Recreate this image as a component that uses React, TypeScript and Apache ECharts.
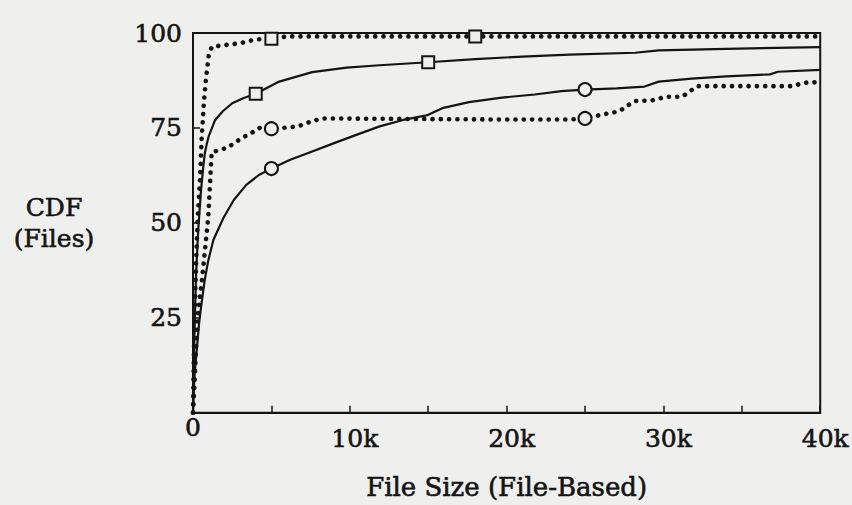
import React, { useEffect, useRef } from 'react';
import * as echarts from 'echarts';

const xTickValues = [0, 10000, 20000, 30000, 40000];
const xTickLabels = ['0', '10k', '20k', '30k', '40k'];
const yTickValues = [0, 25, 50, 75, 100];
const yTickLabels = ['', '25', '50', '75', '100'];

// dotted curve with square markers (top)
const dottedSquareLine: [number, number][] = [
  [0, 0], [50, 14], [120, 28], [200, 40], [300, 51], [440, 61], [550, 72], [700, 82],
  [830, 88], [1000, 94], [1200, 96.4], [2000, 96.8], [3000, 97.3], [3700, 98],
  [4300, 98.4], [5000, 98.5], [6000, 99.1], [18000, 99.1], [40000, 99.1],
];
const dottedSquareMarks: [number, number][] = [[5000, 98.5], [18000, 99.1]];

// solid curve with square markers
const solidSquareLine: [number, number][] = [
  [0, 0], [50, 12], [100, 22], [200, 37], [340, 48.5], [500, 58], [660, 65], [760, 68.5],
  [870, 70.6], [1000, 72.8], [1400, 77], [1900, 79.4], [2500, 81.5], [3200, 82.8],
  [4000, 84], [5500, 87.2], [7600, 89.7], [9800, 90.9], [11900, 91.5], [15000, 92.3],
  [18000, 93.1], [21000, 93.8], [24000, 94.3], [28200, 94.8], [29700, 95.4],
  [34000, 95.8], [40000, 96.3],
];
const solidSquareMarks: [number, number][] = [[4000, 84], [15000, 92.3]];

// dotted curve with circle markers
const dottedCircleLine: [number, number][] = [
  [0, 0], [100, 8], [230, 20], [400, 29], [550, 34], [760, 42.7], [970, 51.4],
  [1080, 60], [1190, 68.6], [1700, 69.2], [2200, 69.8], [3100, 72.3], [3700, 73.6],
  [4250, 75], [5000, 74.8], [5700, 75], [6700, 75.4], [7600, 76.8], [8300, 77.5],
  [12000, 77.4], [16000, 77.3], [20000, 77.2], [24000, 77.2], [25000, 77.5],
  [25600, 78.1], [27200, 79.4], [27600, 80.6], [28200, 82.1], [29200, 82.2],
  [30200, 83.2], [31200, 83.2], [31700, 84.7], [32200, 86], [38300, 86],
  [38700, 86.6], [39200, 87], [40000, 87],
];
const dottedCircleMarks: [number, number][] = [[5000, 74.8], [25000, 77.5]];

// solid curve with circle markers
const solidCircleLine: [number, number][] = [
  [0, 0], [50, 6], [100, 10], [230, 16], [400, 24], [550, 29], [750, 35], [970, 40],
  [1300, 45.5], [1930, 51.2], [2600, 56], [3400, 60], [4200, 62.6], [5000, 64.3],
  [6200, 66.6], [7600, 68.8], [9000, 71], [10500, 73.3], [11900, 75.4], [13400, 77.1],
  [14900, 78.3], [15900, 80.2], [17600, 81.8], [19700, 83], [21800, 83.8],
  [23500, 84.7], [25000, 85.1], [27000, 85.4], [28800, 85.9], [29700, 87.2],
  [31800, 88], [34000, 88.6], [36800, 89.1], [37300, 89.8], [40000, 90.3],
];
const solidCircleMarks: [number, number][] = [[5000, 64.3], [25000, 85.1]];

const BG = '#efefed';
const INK = '#141414';
const FONT = '"DejaVu Serif", "Liberation Serif", serif';
const TXT = { fontFamily: FONT, color: INK, textBorderColor: INK, textBorderWidth: 0.6 };

export default function App() {
  const ref = useRef<HTMLDivElement>(null);

  useEffect(() => {
    if (!ref.current) return;
    const chart = echarts.init(ref.current, undefined, { renderer: 'svg' });

    const dotted = { color: INK, width: 4.6, type: [0.1, 8.2] as number[], cap: 'round' as const };
    const solid = { color: INK, width: 2.2 };

    const lineSeries = (data: [number, number][], lineStyle: any) => ({
      type: 'line',
      data,
      symbol: 'none',
      showSymbol: false,
      lineStyle,
      silent: true,
      z: 2,
    });
    const markSeries = (data: [number, number][], symbol: string, size: number) => ({
      type: 'scatter',
      data,
      symbol,
      symbolSize: size,
      itemStyle: { color: BG, borderColor: INK, borderWidth: 2, opacity: 1 },
      silent: true,
      z: 5,
    });

    chart.setOption({
      animation: false,
      backgroundColor: BG,
      textStyle: { fontFamily: FONT, color: INK },
      grid: {
        left: 193,
        right: 29,
        top: 33,
        bottom: 92,
        show: true,
        borderColor: INK,
        borderWidth: 2,
        backgroundColor: 'transparent',
      },
      xAxis: {
        type: 'value',
        min: 0,
        max: 40000,
        interval: 10000,
        name: 'File Size (File-Based)',
        nameLocation: 'middle',
        nameGap: 61,
        nameTextStyle: { ...TXT, fontSize: 26 },
        axisLine: { show: true, lineStyle: { color: INK, width: 2 } },
        axisTick: { show: true, inside: true, length: 7, lineStyle: { color: INK, width: 1.5 } },
        minorTick: { show: true, splitNumber: 2, length: 7, lineStyle: { color: INK, width: 1.5 } },
        splitLine: { show: false },
        minorSplitLine: { show: false },
        axisLabel: {
          margin: 2,
          ...TXT,
          fontSize: 25,
          formatter: (v: number) => {
            const i = xTickValues.indexOf(v);
            const t = i >= 0 ? xTickLabels[i] : '';
            return v === 0 ? `{z|${t}}` : `{n|${t}}`;
          },
          rich: {
            z: { ...TXT, fontSize: 25 },
            n: { ...TXT, fontSize: 25, padding: [11, 0, 0, 10] },
          },
        },
      },
      yAxis: {
        type: 'value',
        min: 0,
        max: 100,
        interval: 25,
        name: 'CDF\n(Files)',
        nameLocation: 'middle',
        nameRotate: 0,
        nameGap: 139,
        nameTextStyle: {
          ...TXT,
          fontSize: 25,
          lineHeight: 31,
          align: 'center',
          padding: [0, 0, 12, 0],
        },
        axisLine: { show: true, lineStyle: { color: INK, width: 2 } },
        axisTick: { show: true, inside: true, length: 7, lineStyle: { color: INK, width: 1.5 } },
        splitLine: { show: false },
        axisLabel: {
          margin: 11,
          ...TXT,
          fontSize: 25,
          formatter: (v: number) => {
            const i = yTickValues.indexOf(v);
            return i >= 0 ? yTickLabels[i] : '';
          },
        },
      },
      series: [
        lineSeries(solidCircleLine, solid),
        lineSeries(solidSquareLine, solid),
        lineSeries(dottedCircleLine, dotted),
        lineSeries(dottedSquareLine, dotted),
        markSeries(solidCircleMarks, 'circle', 13),
        markSeries(dottedCircleMarks, 'circle', 13),
        markSeries(solidSquareMarks, 'rect', 12),
        markSeries(dottedSquareMarks, 'rect', 12),
      ],
    });

    return () => chart.dispose();
  }, []);

  return (
    <div
      ref={ref}
      style={{ position: 'absolute', left: 0, top: 0, width: 852, height: 505 }}
    />
  );
}
